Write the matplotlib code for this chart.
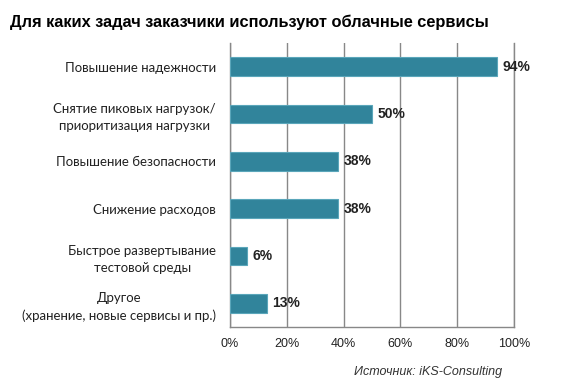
import matplotlib
matplotlib.use("Agg")
import matplotlib.pyplot as plt

categories = [
    "Повышение надежности",
    "Снятие пиковых нагрузок/\nприоритизация нагрузки",
    "Повышение безопасности",
    "Снижение расходов",
    "Быстрое развертывание\nтестовой среды",
    "Другое\n(хранение, новые сервисы и пр.)",
]
values = [94, 50, 38, 38, 6, 13]
xticks = [0, 20, 40, 60, 80, 100]
xtick_labels = ["0%", "20%", "40%", "60%", "80%", "100%"]
title = "Для каких задач заказчики используют облачные сервисы"
source = "Источник: iKS-Consulting"

fig = plt.figure(figsize=(5.67, 3.85), dpi=100)
ax = fig.add_axes([230/567, 1-327/385, 284/567, (327-43)/385])

y = list(range(len(categories)))
ax.barh(y, values, height=0.4, color="#31849B", edgecolor="#5AA6BA", linewidth=0.8, zorder=3)
ax.set_ylim(5.5, -0.5)
ax.set_xlim(0, 100)
ax.set_xticks(xticks)
ax.set_xticklabels(xtick_labels, fontsize=9, family="Liberation Sans", color="#222222")
ax.tick_params(axis="x", length=0, pad=8)
ax.set_yticks(y)
ax.set_yticklabels(categories, fontsize=9.5, family="Lato", color="#222222",
                   multialignment="center", linespacing=1.5)
ax.tick_params(axis="y", length=0, pad=10)
ax.grid(axis="x", color="#888888", linewidth=1.0, zorder=0)
for s in ["top"]:
    ax.spines[s].set_visible(False)
for s in ["left", "bottom", "right"]:
    ax.spines[s].set_color("#888888")
    ax.spines[s].set_linewidth(1.0)

for yi, v in zip(y, values):
    ax.text(v + 2, yi, f"{v}%", va="center", ha="left", fontsize=10,
            fontweight="bold", family="Liberation Sans", color="#222222", zorder=4)

fig.text(10/567, 1-22/385, title, fontsize=11.8, fontweight="bold",
         family="Liberation Sans", va="center", ha="left", color="#000000")
fig.text(502/567, 1-372/385, source, fontsize=9, style="italic",
         family="Liberation Sans", va="center", ha="right", color="#333333")

fig.savefig("out.png", dpi=100)
